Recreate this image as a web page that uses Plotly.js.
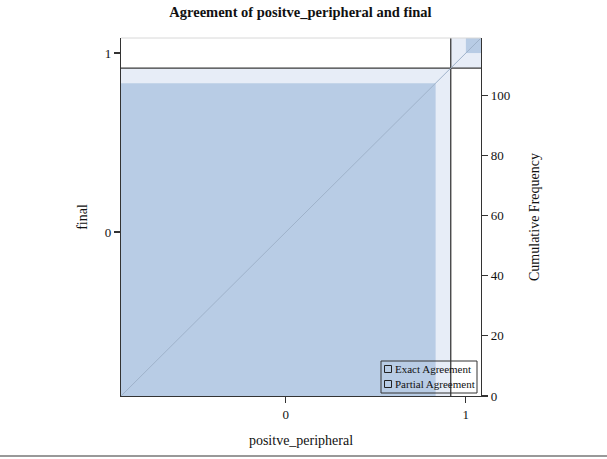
<!DOCTYPE html>
<html>
<head>
<meta charset="utf-8">
<script src="https://cdn.plot.ly/plotly-3.0.1.min.js"></script>
<style>html,body{margin:0;padding:0;background:#fff;}#chart{width:607px;height:459px;}</style>
</head>
<body>
<div id="chart"></div>
<script>
// Categories of the two raters
const colCategories = ["0", "1"];   // positve_peripheral
const rowCategories = ["0", "1"];   // final
// counts[row][col]: row = final, col = positve_peripheral
const countsRow0 = [104, 5];
const countsRow1 = [5, 5];
const counts = [countsRow0, countsRow1];
const freqTicks = [0, 20, 40, 60, 80, 100];
const legendNames = ['Exact Agreement', 'Partial Agreement'];

const K = colCategories.length;
const colTot = colCategories.map((_, j) => counts.reduce((s, r) => s + r[j], 0));
const rowTot = counts.map(r => r.reduce((s, v) => s + v, 0));
const N = rowTot.reduce((s, v) => s + v, 0);
const xCum = [0]; colTot.forEach(v => xCum.push(xCum[xCum.length - 1] + v));
const yCum = [0]; rowTot.forEach(v => yCum.push(yCum[yCum.length - 1] + v));
const xMid = colTot.map((v, j) => xCum[j] + v / 2);
const yMid = rowTot.map((v, i) => yCum[i] + v / 2);

function rect(x0, y0, w, h) {
  return {x: [x0, x0 + w, x0 + w, x0, x0], y: [y0, y0, y0 + h, y0 + h, y0]};
}
const traces = [];
const partialColor = '#e7edf7', exactColor = '#b8cce5';
// partial agreement rectangles
for (let k = 0; k < K; k++) {
  let x0 = xCum[k], y0 = yCum[k], w = 0, h = 0;
  for (let i = 0; i < K; i++) {
    if (i < k - 1) x0 += counts[i][k];
    if (Math.abs(i - k) <= 1) w += counts[i][k];
  }
  for (let j = 0; j < K; j++) {
    if (j < k - 1) y0 += counts[k][j];
    if (Math.abs(j - k) <= 1) h += counts[k][j];
  }
  const r = rect(x0, y0, w, h);
  traces.push({x: r.x, y: r.y, type: 'scatter', mode: 'lines', fill: 'toself',
    fillcolor: partialColor, line: {width: 0, color: partialColor}, showlegend: false, hoverinfo: 'skip'});
}
// exact agreement squares
for (let k = 0; k < K; k++) {
  let x0 = xCum[k], y0 = yCum[k];
  for (let i = 0; i < k; i++) x0 += counts[i][k];
  for (let j = 0; j < k; j++) y0 += counts[k][j];
  const n = counts[k][k];
  const r = rect(x0, y0, n, n);
  traces.push({x: r.x, y: r.y, type: 'scatter', mode: 'lines', fill: 'toself',
    fillcolor: exactColor, line: {width: 0, color: exactColor}, showlegend: false, hoverinfo: 'skip'});
}
// diagonal reference line
traces.push({x: [0, N], y: [0, N], type: 'scatter', mode: 'lines', yaxis: 'y2',
  line: {color: '#9fb2ca', width: 1}, showlegend: false, hoverinfo: 'skip'});
// category boundary lines
for (let j = 1; j < K; j++) {
  traces.push({x: [xCum[j], xCum[j]], y: [0, N], type: 'scatter', mode: 'lines',
    line: {color: '#3a3a3a', width: 1.3}, showlegend: false, hoverinfo: 'skip'});
}
for (let i = 1; i < K; i++) {
  traces.push({x: [0, N], y: [yCum[i], yCum[i]], type: 'scatter', mode: 'lines',
    line: {color: '#3a3a3a', width: 1.3}, showlegend: false, hoverinfo: 'skip'});
}

const serif = 'Liberation Serif, Times New Roman, serif';
const axisCommon = {
  range: [0, N], showline: true, linecolor: '#333', linewidth: 1.2,
  ticks: 'outside', ticklen: 6, tickcolor: '#333', tickwidth: 1.2,
  showgrid: false, zeroline: false, fixedrange: true,
  tickfont: {family: serif, size: 13, color: '#111'}
};

// manual legend (paper coordinates of the plot area)
const plotW = 607 - 121 - 126, plotH = 459 - 38 - 63;
const px = v => (v - 121) / plotW;
const py = v => (459 - 63 - v) / plotH;
const shapes = [
  {type: 'line', xref: 'paper', yref: 'paper', x0: 0, x1: 1, y0: 1, y1: 1, line: {color: '#d8d8d8', width: 1}},
  {type: 'line', xref: 'paper', yref: 'paper', x0: -1, x1: 1.4, y0: py(456), y1: py(456), line: {color: '#999', width: 2}},
  {type: 'rect', xref: 'paper', yref: 'paper', x0: px(381), x1: px(477), y0: py(393), y1: py(361),
    line: {color: '#333', width: 1}, fillcolor: 'rgba(0,0,0,0)'}
];
const annotations = [];
legendNames.forEach((name, i) => {
  const cy = 369 + i * 15;
  shapes.push({type: 'rect', xref: 'paper', yref: 'paper', x0: px(384.5), x1: px(391.5), y0: py(cy + 3.5), y1: py(cy - 3.5),
    line: {color: '#222', width: 1}, fillcolor: 'rgba(0,0,0,0)'});
  annotations.push({xref: 'paper', yref: 'paper', x: px(393), y: py(cy), xanchor: 'left', yanchor: 'middle',
    text: name, showarrow: false, font: {family: serif, size: 11, color: '#111'}});
});

const layout = {
  width: 607, height: 459,
  margin: {l: 121, r: 126, t: 38, b: 63},
  paper_bgcolor: '#fff', plot_bgcolor: '#fff',
  font: {family: serif, color: '#111'},
  title: {text: 'Agreement of positve_peripheral and final', x: 0.495, xanchor: 'center',
    y: 0.973, yref: 'container', yanchor: 'middle',
    font: {family: serif, size: 14.5, weight: 'bold', color: '#111'}},
  xaxis: Object.assign({}, axisCommon, {tickvals: xMid, ticktext: colCategories,
    title: {text: 'positve_peripheral', font: {family: serif, size: 14}, standoff: 14}}),
  yaxis: Object.assign({}, axisCommon, {tickvals: yMid, ticktext: rowCategories,
    title: {text: 'final', font: {family: serif, size: 14}, standoff: 13}}),
  yaxis2: Object.assign({}, axisCommon, {overlaying: 'y', side: 'right', tickvals: freqTicks,
    title: {text: 'Cumulative Frequency', font: {family: serif, size: 14}, standoff: 20}}),
  showlegend: false,
  shapes: shapes,
  annotations: annotations
};
Plotly.newPlot('chart', traces, layout, {displayModeBar: false, staticPlot: true});
</script>
</body>
</html>
